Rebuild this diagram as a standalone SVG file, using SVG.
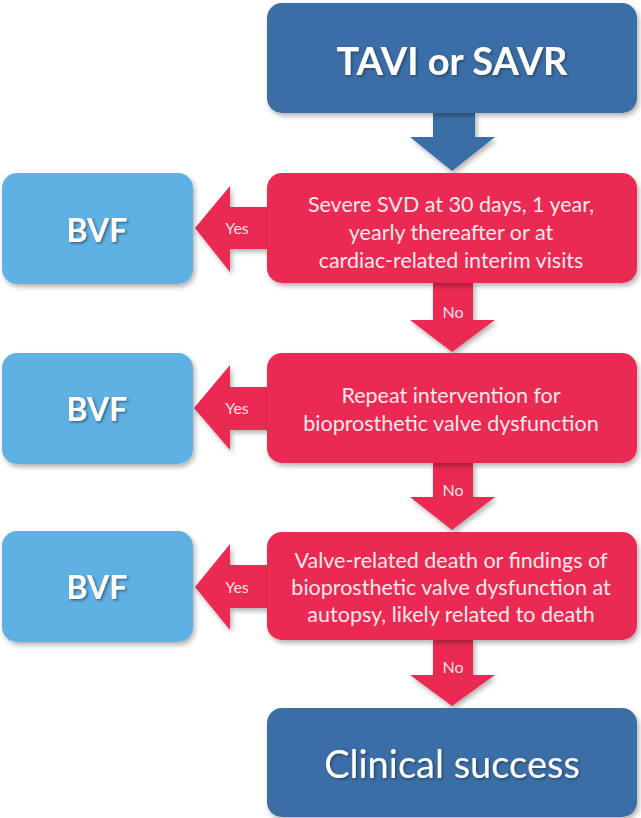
<svg xmlns="http://www.w3.org/2000/svg" width="641" height="818" viewBox="0 0 641 818">
<defs>
<filter id="sh" x="-10%" y="-10%" width="125%" height="130%">
<feDropShadow dx="2" dy="3" stdDeviation="2.5" flood-color="#000" flood-opacity="0.3"/>
</filter>
<filter id="tsh" x="-10%" y="-20%" width="125%" height="150%">
<feDropShadow dx="1.5" dy="1.5" stdDeviation="1" flood-color="#1a2a40" flood-opacity="0.6"/>
</filter>
<style>
.dark{fill:#3b6ea6;filter:url(#sh)}
.red{fill:#ea2b52;filter:url(#sh)}
.light{fill:#5eb0e3;filter:url(#sh)}
.big{font-family:Lato,"Open Sans",sans-serif;fill:#ffffff;text-anchor:middle;filter:url(#tsh)}
.body{font-family:Lato,"Open Sans",sans-serif;font-size:21.5px;fill:#fde8ec;text-anchor:middle}
.lbl{font-family:Lato,"Open Sans",sans-serif;font-size:16px;fill:#fde0e6;text-anchor:middle}
</style>
</defs>
<rect width="641" height="818" fill="#ffffff"/>

<g id="connectors">
<path class="dark" d="M433,112 H475 V137 H495 L452,171 L410,137 H433 Z"/>
<path class="red" d="M433,282 H473 V320 H495 L452,352 L410,320 H433 Z"/>
<path class="red" d="M433,462 H473 V497 H495 L452,530 L410,497 H433 Z"/>
<path class="red" d="M433,639 H473 V675 H495 L452,706 L410,675 H433 Z"/>
<path class="red" d="M268,207 H230 V186 L195,228 L230,272 V249 H268 Z"/>
<path class="red" d="M268,387 H230 V365 L194,408 L230,450 V430 H268 Z"/>
<path class="red" d="M268,565 H230 V544 L195,587 L230,630 V608 H268 Z"/>
<text class="lbl" x="237" y="234">Yes</text>
<text class="lbl" x="237" y="414">Yes</text>
<text class="lbl" x="237" y="593">Yes</text>
<text class="lbl" x="453" y="318">No</text>
<text class="lbl" x="453" y="496">No</text>
<text class="lbl" x="453" y="673">No</text>
</g>

<g id="start">
<rect class="dark" x="267" y="3" width="370" height="110" rx="15"/>
<text class="big" x="452" y="75" font-size="38" font-weight="bold">TAVI or SAVR</text>
</g>

<g id="q1">
<rect class="red" x="267" y="173" width="370" height="110" rx="15"/>
<text class="body" x="451" y="212">Severe SVD at 30 days, 1 year,</text>
<text class="body" x="451" y="240">yearly thereafter or at</text>
<text class="body" x="451" y="268">cardiac-related interim visits</text>
</g>

<g id="bvf1">
<rect class="light" x="2" y="173" width="191" height="111" rx="15"/>
<text class="big" x="97" y="242" font-size="32" font-weight="bold">BVF</text>
</g>

<g id="q2">
<rect class="red" x="267" y="353" width="370" height="110" rx="15"/>
<text class="body" x="451" y="403">Repeat intervention for</text>
<text class="body" x="451" y="431">bioprosthetic valve dysfunction</text>
</g>

<g id="bvf2">
<rect class="light" x="2" y="353" width="191" height="111" rx="15"/>
<text class="big" x="97" y="421" font-size="32" font-weight="bold">BVF</text>
</g>

<g id="q3">
<rect class="red" x="267" y="532" width="370" height="108" rx="15"/>
<text class="body" x="451" y="568">Valve-related death or findings of</text>
<text class="body" x="451" y="595">bioprosthetic valve dysfunction at</text>
<text class="body" x="451" y="622">autopsy, likely related to death</text>
</g>

<g id="bvf3">
<rect class="light" x="2" y="531" width="191" height="111" rx="15"/>
<text class="big" x="97" y="599" font-size="32" font-weight="bold">BVF</text>
</g>

<g id="end">
<rect class="dark" x="267" y="708" width="370" height="109" rx="15"/>
<text class="big" x="452" y="778" font-size="38">Clinical success</text>
</g>
</svg>
